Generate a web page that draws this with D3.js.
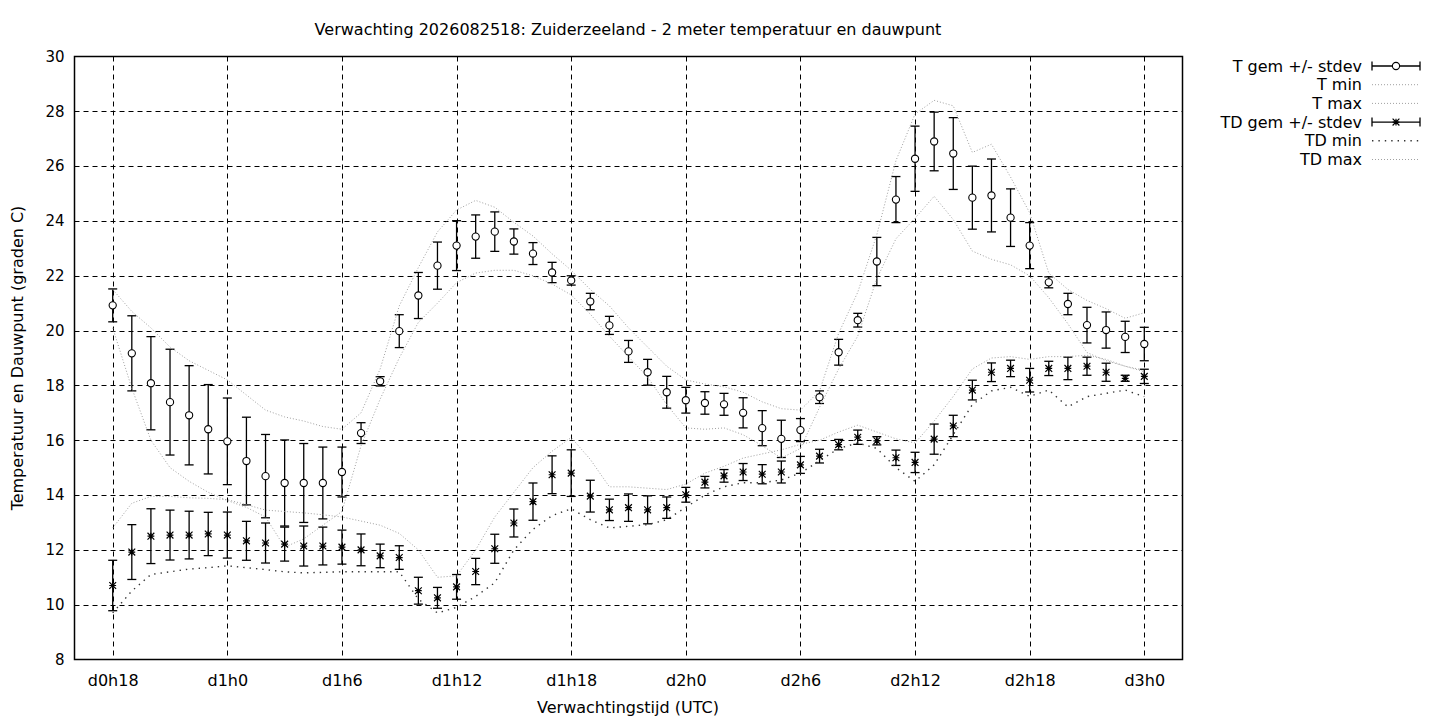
<!DOCTYPE html>
<html>
<head>
<meta charset="utf-8">
<script src="https://cdn.jsdelivr.net/npm/d3@7"></script>
<style>
  body { margin: 0; background: #fff; }
  svg { display: block; }
  text { font-family: "DejaVu Sans", sans-serif; fill: #000; }
</style>
</head>
<body>
<div id="chart"></div>
<script>
// forecast hours since d0h0
const hours = [18, 19, 20, 21, 22, 23, 24, 25, 26, 27, 28, 29, 30, 31, 32, 33, 34, 35, 36,
    37, 38, 39, 40, 41, 42, 43, 44, 45, 46, 47, 48, 49, 50, 51, 52, 53, 54, 55, 56, 57,
    58, 59, 60, 61, 62, 63, 64, 65, 66, 67, 68, 69, 70, 71, 72];

const tMean = [20.92, 19.17, 18.08, 17.39, 16.91, 16.40, 15.96, 15.24, 14.69, 14.44, 14.44,
    14.44, 14.84, 16.26, 18.15, 19.98, 21.28, 22.37, 23.10, 23.43, 23.61, 23.25, 22.81,
    22.12, 21.83, 21.06, 20.19, 19.24, 18.48, 17.75, 17.46, 17.36, 17.31, 17.00, 16.44,
    16.05, 16.37, 17.57, 19.21, 20.38, 22.52, 24.78, 26.27, 26.90, 26.46, 24.85, 24.93,
    24.12, 23.10, 21.76, 20.97, 20.20, 20.02, 19.77, 19.51];
const tSd = [0.60, 1.37, 1.70, 1.93, 1.81, 1.63, 1.58, 1.60, 1.52, 1.57, 1.44, 1.31, 0.91,
    0.38, 0.17, 0.60, 0.84, 0.86, 0.91, 0.79, 0.72, 0.46, 0.40, 0.37, 0.17, 0.30, 0.33,
    0.40, 0.47, 0.58, 0.47, 0.41, 0.40, 0.55, 0.64, 0.68, 0.42, 0.23, 0.47, 0.25, 0.88,
    0.84, 1.19, 1.07, 1.31, 1.15, 1.33, 1.05, 0.84, 0.20, 0.39, 0.65, 0.66, 0.57, 0.61];
const tMin = [20.1, 17.9, 16.0, 15.0, 14.5, 14.1, 13.8, 13.55, 13.2, 12.1, 12.4, 12.9, 13.4,
    15.8, 17.5, 19.0, 20.3, 21.0, 21.75, 22.1, 22.2, 22.2, 22.0, 21.7, 21.3, 20.6, 19.8,
    19.05, 18.3, 17.3, 16.45, 16.4, 16.45, 16.2, 15.8, 15.35, 15.7, 17.2, 18.6, 19.8, 21.9,
    23.35, 24.1, 24.9, 24.05, 22.9, 22.6, 22.4, 22.0, 21.2, 20.25, 19.2, 18.9, 18.7, 18.55];
const tMax = [21.5, 20.7, 20.1, 19.4, 18.9, 18.55, 18.2, 17.65, 17.1, 16.85, 16.7, 16.5, 16.4,
    17.0, 18.6, 20.9, 22.3, 23.6, 24.4, 24.75, 24.5, 23.95, 23.45, 22.8, 22.2, 21.5, 20.9,
    20.1, 19.4, 18.7, 18.2, 18.05, 17.95, 17.75, 17.4, 17.15, 17.1, 17.8, 19.9, 21.4, 23.5,
    26.2, 27.9, 28.4, 28.2, 26.5, 26.8, 25.6, 24.3, 22.1, 21.5, 21.1, 20.8, 20.45, 20.65];

const tdMean = [10.70, 11.92, 12.50, 12.54, 12.54, 12.58, 12.54, 12.33, 12.25, 12.21, 12.14,
    12.14, 12.10, 12.00, 11.78, 11.72, 10.51, 10.25, 10.65, 11.21, 12.04, 12.98, 13.76,
    14.74, 14.80, 13.96, 13.46, 13.54, 13.46, 13.54, 14.01, 14.47, 14.70, 14.84, 14.76,
    14.84, 15.10, 15.42, 15.84, 16.11, 15.98, 15.36, 15.19, 16.04, 16.52, 17.83, 18.48,
    18.62, 18.19, 18.62, 18.62, 18.70, 18.48, 18.26, 18.33];
const tdSd = [0.92, 1.00, 1.00, 0.91, 0.87, 0.79, 0.84, 0.71, 0.73, 0.62, 0.73, 0.69, 0.62,
    0.58, 0.43, 0.43, 0.49, 0.38, 0.45, 0.48, 0.53, 0.51, 0.68, 0.69, 0.85, 0.58, 0.39,
    0.50, 0.51, 0.39, 0.27, 0.21, 0.23, 0.31, 0.35, 0.40, 0.31, 0.25, 0.19, 0.26, 0.15,
    0.28, 0.37, 0.55, 0.39, 0.36, 0.34, 0.30, 0.43, 0.26, 0.41, 0.33, 0.33, 0.11, 0.26];
const tdMin = [9.7, 10.5, 11.1, 11.2, 11.3, 11.35, 11.42, 11.35, 11.28, 11.2, 11.16, 11.18,
    11.2, 11.2, 11.2, 11.2, 10.2, 9.7, 9.9, 10.3, 10.8, 12.0, 12.75, 13.25, 13.5, 13.1, 12.8,
    12.86, 12.92, 13.1, 13.55, 14.0, 14.3, 14.45, 14.45, 14.55, 14.8, 15.25, 15.7, 15.9, 15.7,
    15.0, 14.5, 15.1, 16.2, 17.3, 17.8, 17.93, 17.6, 17.83, 17.22, 17.59, 17.71, 17.83, 17.59];
const tdMax = [12.8, 13.7, 13.95, 13.95, 13.9, 13.88, 13.83, 13.65, 13.45, 13.4, 13.35, 13.28,
    13.2, 13.05, 12.9, 12.6, 12.0, 11.0, 11.05, 12.0, 13.2, 14.1, 15.0, 15.6, 16.1, 15.3,
    14.3, 14.3, 14.25, 14.2, 14.4, 14.8, 15.05, 15.35, 15.5, 15.65, 15.85, 16.0, 16.3, 16.55,
    16.3, 16.05, 15.9, 16.7, 17.6, 18.6, 19.0, 19.05, 18.95, 19.05, 19.05, 19.1, 18.95,
    18.7, 18.5];

const xTicks = [18, 24, 30, 36, 42, 48, 54, 60, 66, 72];
const xTickLabels = ['d0h18', 'd1h0', 'd1h6', 'd1h12', 'd1h18', 'd2h0', 'd2h6', 'd2h12', 'd2h18', 'd3h0'];
const yTicks = [8, 10, 12, 14, 16, 18, 20, 22, 24, 26, 28, 30];

const width = 1440, height = 720;
const plot = { left: 74.5, right: 1182.5, top: 56.5, bottom: 659.5 };

const svg = d3.select('#chart')
    .append('svg')
    .attr('width', width)
    .attr('height', height);

svg.append('rect')
    .attr('width', width)
    .attr('height', height)
    .attr('fill', '#fff');

const x = d3.scaleLinear().domain([16, 74]).range([plot.left, plot.right]);
const y = d3.scaleLinear().domain([8, 30]).range([plot.bottom, plot.top]);

// grid
const grid = svg.append('g')
    .attr('stroke', '#000')
    .attr('stroke-width', 1)
    .attr('stroke-dasharray', '5,4');

grid.selectAll('.hgrid')
    .data(yTicks.slice(1, -1))
    .enter().append('line')
    .attr('x1', plot.left).attr('x2', plot.right)
    .attr('y1', d => Math.round(y(d)) + 0.5).attr('y2', d => Math.round(y(d)) + 0.5);

grid.selectAll('.vgrid')
    .data(xTicks)
    .enter().append('line')
    .attr('x1', d => Math.round(x(d)) + 0.5).attr('x2', d => Math.round(x(d)) + 0.5)
    .attr('y1', plot.top).attr('y2', plot.bottom);

// axes, tick labels only (gnuplot style)
const yAxis = d3.axisLeft(y).tickValues(yTicks).tickSize(0).tickPadding(10);
svg.append('g')
    .attr('transform', `translate(${plot.left},0)`)
    .call(yAxis)
    .call(g => g.select('.domain').remove())
    .call(g => g.selectAll('text')
        .attr('font-size', 15)
        .attr('font-family', '"DejaVu Sans", sans-serif')
        .attr('fill', '#000'));

const xAxis = d3.axisBottom(x).tickValues(xTicks)
    .tickFormat((d, i) => xTickLabels[i]).tickSize(0).tickPadding(15);
svg.append('g')
    .attr('transform', `translate(0,${plot.bottom})`)
    .call(xAxis)
    .call(g => g.select('.domain').remove())
    .call(g => g.selectAll('text')
        .attr('font-size', 16)
        .attr('font-family', '"DejaVu Sans", sans-serif')
        .attr('fill', '#000'));

// titles
svg.append('text')
    .attr('x', 628).attr('y', 35)
    .attr('text-anchor', 'middle')
    .attr('font-size', 16)
    .text('Verwachting 2026082518: Zuiderzeeland - 2 meter temperatuur en dauwpunt');

svg.append('text')
    .attr('x', 628).attr('y', 713)
    .attr('text-anchor', 'middle')
    .attr('font-size', 16)
    .text('Verwachtingstijd (UTC)');

svg.append('text')
    .attr('transform', `translate(23,${(plot.top + plot.bottom) / 2}) rotate(-90)`)
    .attr('text-anchor', 'middle')
    .attr('font-size', 16)
    .text('Temperatuur en Dauwpunt (graden C)');

// styles for the series
const lightDots = { stroke: '#a0a0a0', width: 1, dash: '1,2' };
const darkDots = { stroke: '#333', width: 1.4, dash: '1.4,5' };

function drawLine(values, style) {
    const line = d3.line()
        .x((d, i) => x(hours[i]))
        .y(d => y(d));
    svg.append('path')
        .datum(values)
        .attr('fill', 'none')
        .attr('stroke', style.stroke)
        .attr('stroke-width', style.width)
        .attr('stroke-dasharray', style.dash)
        .attr('d', line);
}

const cap = 4.5;

function drawErrorBars(mean, sd, marker) {
    const rows = mean.map((m, i) => ({ h: hours[i], m: m, sd: sd[i] }));
    const g = svg.append('g')
        .attr('stroke', '#000')
        .attr('stroke-width', 1.3)
        .attr('fill', 'none');
    const bars = g.selectAll('g').data(rows).enter().append('g');
    bars.append('line')
        .attr('x1', d => x(d.h)).attr('x2', d => x(d.h))
        .attr('y1', d => y(d.m - d.sd)).attr('y2', d => y(d.m + d.sd));
    bars.append('line')
        .attr('x1', d => x(d.h) - cap).attr('x2', d => x(d.h) + cap)
        .attr('y1', d => y(d.m + d.sd)).attr('y2', d => y(d.m + d.sd));
    bars.append('line')
        .attr('x1', d => x(d.h) - cap).attr('x2', d => x(d.h) + cap)
        .attr('y1', d => y(d.m - d.sd)).attr('y2', d => y(d.m - d.sd));
    bars.each(function (d) {
        drawMarker(d3.select(this), x(d.h), y(d.m), marker);
    });
}

function drawMarker(sel, cx, cy, marker) {
    if (marker === 'circle') {
        sel.append('circle')
            .attr('cx', cx).attr('cy', cy).attr('r', 3.6)
            .attr('fill', '#fff')
            .attr('stroke', '#000')
            .attr('stroke-width', 1.1);
    } else {
        const s = 3.4;
        sel.append('path')
            .attr('d', `M${cx - s},${cy}H${cx + s}M${cx},${cy - s}V${cy + s}` +
                `M${cx - s},${cy - s}L${cx + s},${cy + s}M${cx - s},${cy + s}L${cx + s},${cy - s}`)
            .attr('stroke', '#000')
            .attr('stroke-width', 1.2);
    }
}

drawErrorBars(tMean, tSd, 'circle');
drawLine(tMin, lightDots);
drawLine(tMax, lightDots);
drawErrorBars(tdMean, tdSd, 'star');
drawLine(tdMin, darkDots);
drawLine(tdMax, lightDots);

// frame
svg.append('rect')
    .attr('x', plot.left).attr('y', plot.top)
    .attr('width', plot.right - plot.left)
    .attr('height', plot.bottom - plot.top)
    .attr('fill', 'none')
    .attr('stroke', '#000')
    .attr('stroke-width', 1.5);

// legend
const legendItems = [
    { label: 'T gem +/- stdev', type: 'bar', marker: 'circle' },
    { label: 'T min', type: 'line', style: lightDots },
    { label: 'T max', type: 'line', style: lightDots },
    { label: 'TD gem +/- stdev', type: 'bar', marker: 'star' },
    { label: 'TD min', type: 'line', style: darkDots },
    { label: 'TD max', type: 'line', style: lightDots }
];

const legend = svg.append('g');
const lx0 = 1372, lx1 = 1420, ltext = 1362;

legendItems.forEach((item, i) => {
    const ly = 66 + i * 18.7;
    legend.append('text')
        .attr('x', ltext).attr('y', ly + 5.5)
        .attr('text-anchor', 'end')
        .attr('font-size', 16)
        .text(item.label);
    if (item.type === 'bar') {
        const g = legend.append('g')
            .attr('stroke', '#000')
            .attr('stroke-width', 1.3);
        g.append('line').attr('x1', lx0).attr('x2', lx1).attr('y1', ly).attr('y2', ly);
        g.append('line').attr('x1', lx0).attr('x2', lx0).attr('y1', ly - cap).attr('y2', ly + cap);
        g.append('line').attr('x1', lx1).attr('x2', lx1).attr('y1', ly - cap).attr('y2', ly + cap);
        drawMarker(g, (lx0 + lx1) / 2, ly, item.marker);
    } else {
        legend.append('line')
            .attr('x1', lx0).attr('x2', lx1).attr('y1', ly).attr('y2', ly)
            .attr('stroke', item.style.stroke)
            .attr('stroke-width', item.style.width)
            .attr('stroke-dasharray', item.style.dash);
    }
});
</script>
</body>
</html>
